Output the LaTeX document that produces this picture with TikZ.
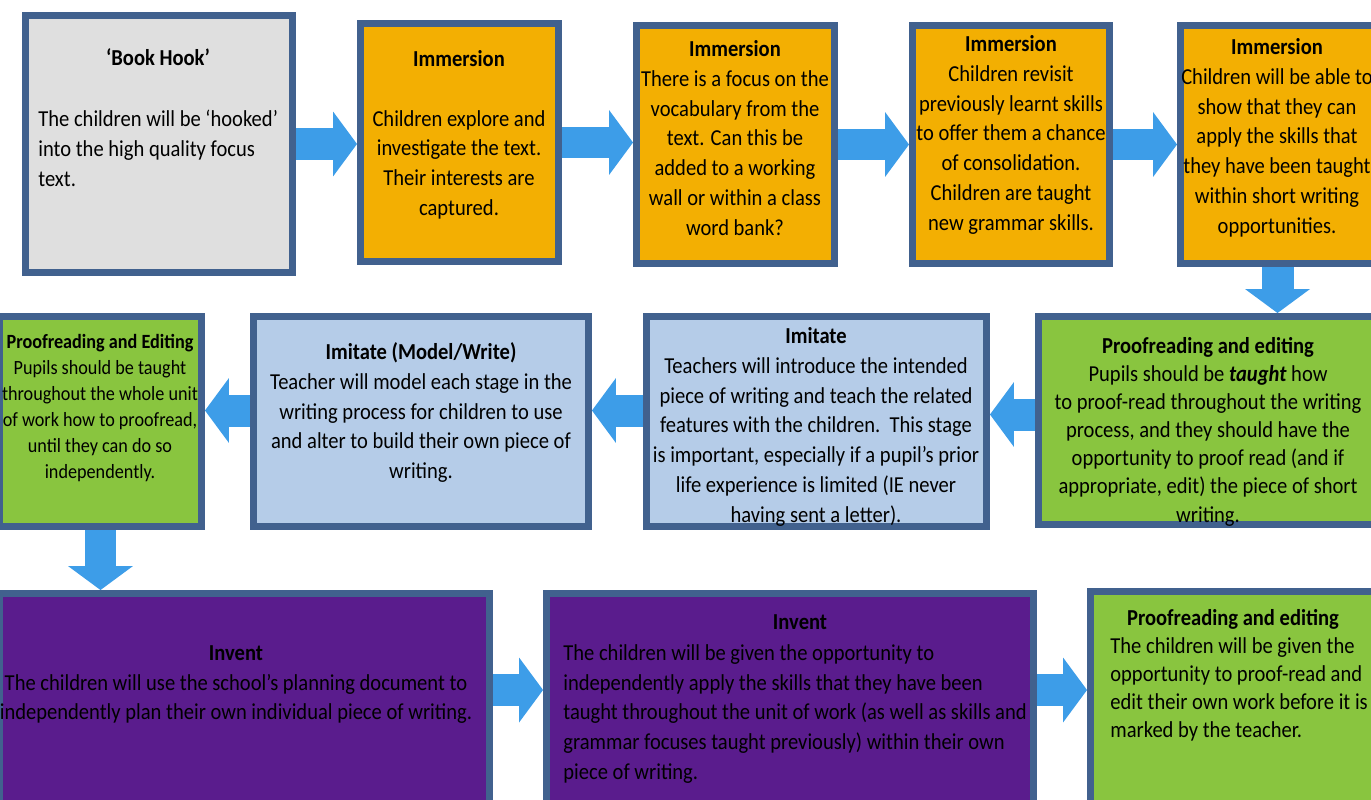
\documentclass[tikz,border=0pt]{standalone}
\usepackage{fontspec}
\setmainfont[FakeStretch=0.9]{Carlito}
\usepackage{tikz}
\usetikzlibrary{arrows.meta}
\definecolor{boxline}{HTML}{41618E}
\definecolor{hookgrey}{HTML}{DFDFDF}
\definecolor{immorange}{HTML}{F3AF02}
\definecolor{proofgreen}{HTML}{89C53F}
\definecolor{imitblue}{HTML}{B5CCE8}
\definecolor{invpurple}{HTML}{5A1C8D}
\definecolor{arrowblue}{HTML}{3D9DE8}

\begin{document}
\begin{tikzpicture}[x=0.02cm,y=-0.02cm,
  box/.style={draw=boxline,line width=0.14cm,inner sep=0pt},
  txt/.style={font=\fontsize{13pt}{17pt}\selectfont,align=center,inner sep=0pt,anchor=north},
  txtl/.style={txt,align=left,anchor=north west},
  tight/.style={font=\fontsize{13pt}{16pt}\selectfont},
  small/.style={font=\fontsize{11.5pt}{14.8pt}\selectfont},
  fat/.style={draw=arrowblue,line width=0.64cm,
              -{Triangle[length=0.48cm,width=1.3cm,line width=0pt]}}]
  \useasboundingbox (0,0) rectangle (1371,800);
  \clip (0,0) rectangle (1371,800);

  % top row
  \node[box,fill=hookgrey,minimum width=5.34cm,minimum height=5.14cm] (b1) at (159,144) {};
  \node[box,fill=immorange,minimum width=3.96cm,minimum height=4.76cm] (b2) at (459.5,142.5) {};
  \node[box,fill=immorange,minimum width=3.96cm,minimum height=4.76cm] (b3) at (735.5,144.5) {};
  \node[box,fill=immorange,minimum width=3.94cm,minimum height=4.76cm] (b4) at (1011,144.5) {};
  \node[box,fill=immorange,minimum width=3.88cm,minimum height=4.76cm] (b5) at (1277.5,144.5) {};
  % middle row
  \node[box,fill=proofgreen,minimum width=6.76cm,minimum height=4.16cm] (b6) at (1207.5,420.5) {};
  \node[box,fill=imitblue,minimum width=6.80cm,minimum height=4.20cm] (b7) at (816.5,421.5) {};
  \node[box,fill=imitblue,minimum width=6.70cm,minimum height=4.20cm] (b8) at (421,421.5) {};
  \node[box,fill=proofgreen,minimum width=4.04cm,minimum height=4.20cm] (b9) at (100.5,421.5) {};
  % bottom row
  \node[box,fill=invpurple,minimum width=9.80cm,minimum height=4.22cm] (b10) at (244.5,699) {};
  \node[box,fill=invpurple,minimum width=9.74cm,minimum height=4.22cm] (b11) at (790,699) {};
  \node[box,fill=proofgreen,minimum width=5.72cm,minimum height=4.26cm] (b12) at (1233.5,698) {};

  \node[txt] (t1h) at (158,48) {\bfseries ‘Book Hook’};
  \node[txtl] (t1) at (38,110) {The children will be ‘hooked’\\ into the high quality focus\\ text.};
  \node[txt] (t2) at (459,50) {\bfseries Immersion\\[17pt] Children explore and\\ investigate the text.\\
    Their interests are\\ captured.};
  \node[txt] (t3) at (735,40) {\textbf{Immersion}\\ There is a focus on the\\ vocabulary from the\\
    text. Can this be\\ added to a working\\ wall or within a class\\ word bank?};
  \node[txt] (t4) at (1011,35) {\textbf{Immersion}\\ Children revisit\\ previously learnt skills\\
    to offer them a chance\\ of consolidation.\\ Children are taught\\ new grammar skills.};
  \node[txt] (t5) at (1277,38) {\textbf{Immersion}\\ Children will be able to\\ show that they can\\
    apply the skills that\\ they have been taught\\ within short writing\\ opportunities.};
  \node[txt,tight] (t6) at (1208,337) {\textbf{Proofreading and editing}\\
    Pupils should be \textbf{\textit{taught}} how\\ to proof-read throughout the writing\\
    process, and they should have the\\ opportunity to proof read (and if\\
    appropriate, edit) the piece of short\\ writing.};
  \node[txt] (t7) at (816,327) {\textbf{Imitate}\\ Teachers will introduce the intended\\
    piece of writing and teach the related\\ features with the children.\ \ This stage\\
    is important, especially if a pupil’s prior\\ life experience is limited (IE never\\
    having sent a letter).};
  \node[txt] (t8) at (421,342) {\textbf{Imitate (Model/Write)}\\ Teacher will model each stage in the\\
    writing process for children to use\\ and alter to build their own piece of\\ writing.};
  \node[txt,small] (t9) at (100,334) {\textbf{Proofreading and Editing}\\ Pupils should be taught\\
    throughout the whole unit\\ of work how to proofread,\\ until they can do so\\ independently.};
  \node[txt] (t10) at (236,645) {\textbf{Invent}\\
    The children will use the school’s planning document to\\
    independently plan their own individual piece of writing.};
  \node[txt] (t11h) at (800,614) {\bfseries Invent};
  \node[txtl] (t11) at (563,644) {The children will be given the opportunity to\\
    independently apply the skills that they have been\\
    taught throughout the unit of work (as well as skills and\\
    grammar focuses taught previously) within their own\\ piece of writing.};
  \node[txt] (t12h) at (1233,609) {\bfseries Proofreading and editing};
  \node[txtl,tight] (t12) at (1110,637) {The children will be given the\\ opportunity to proof-read and\\
    edit their own work before it is\\ marked by the teacher.};

  \draw[fat] (b1.east) -- (b1.east -| b2.west);
  \draw[fat] (b2.east) -- (b2.east -| b3.west);
  \draw[fat] (b3.east) -- (b3.east -| b4.west);
  \draw[fat] (b4.east) -- (b4.east -| b5.west);
  \draw[fat] (b5.south) -- (b5.south |- b6.north);
  \draw[fat] ([yshift=0.12cm]b6.west) -- ([yshift=0.12cm]b6.west -| b7.east);
  \draw[fat] ([yshift=0.22cm]b7.west) -- ([yshift=0.22cm]b7.west -| b8.east);
  \draw[fat] ([yshift=0.22cm]b8.west) -- ([yshift=0.22cm]b8.west -| b9.east);
  \draw[fat] (b9.south) -- (b9.south |- b10.north);
  \draw[fat] ([yshift=0.18cm]b10.east) -- ([yshift=0.18cm]b10.east -| b11.west);
  \draw[fat] ([yshift=0.18cm]b11.east) -- ([yshift=0.18cm]b11.east -| b12.west);
\end{tikzpicture}
\end{document}
